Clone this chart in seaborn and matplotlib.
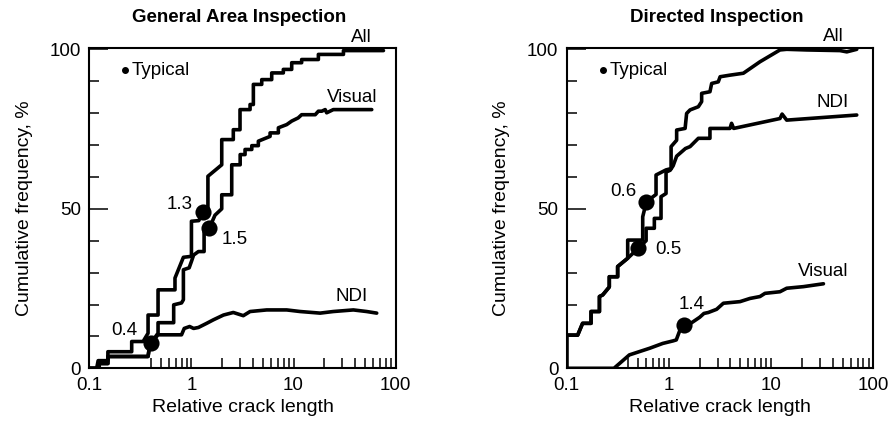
import matplotlib
matplotlib.use("Agg")
import matplotlib.pyplot as plt
import pandas as pd
import seaborn as sns
from matplotlib.ticker import FixedLocator, FixedFormatter, NullFormatter

# ---- General Area Inspection: cumulative frequency vs relative crack length ----
gen_all_x = [0.10, 0.118, 0.122, 0.152, 0.152, 0.26, 0.26, 0.336, 0.376, 0.376, 0.471, 0.471,
             0.69, 0.69, 0.834, 1.0, 1.0, 1.18, 1.3, 1.45, 1.45, 1.98, 1.98, 2.57, 2.57, 2.99,
             2.99, 3.75, 3.75, 4.04, 4.04, 4.88, 4.88, 6.11, 6.11, 7.94, 7.94, 9.59, 9.59, 12.0,
             12.0, 17.5, 17.5, 30.8, 30.8, 75.9]
gen_all_y = [0, 0, 2.4, 2.4, 5.2, 5.2, 8.4, 8.4, 11.0, 16.7, 16.7, 24.6,
             24.6, 28.3, 34.8, 35.1, 46.1, 46.3, 49.0, 50.0, 60.2, 63.8, 71.7, 71.7, 74.8, 74.8,
             81.1, 81.1, 82.7, 82.7, 89.0, 89.0, 90.5, 90.5, 92.6, 92.6, 93.7, 93.7, 95.8, 95.8,
             96.8, 96.8, 98.4, 98.4, 99.6, 99.6]

gen_visual_x = [0.10, 0.125, 0.125, 0.152, 0.152, 0.376, 0.385, 0.40, 0.471, 0.471, 0.67, 0.67,
                0.80, 0.834, 0.834, 0.95, 1.0, 1.05, 1.17, 1.33, 1.33, 1.5, 1.7, 1.98, 1.98, 2.48,
                2.48, 3.0, 3.0, 3.35, 3.35, 3.9, 3.9, 4.52, 4.52, 5.89, 5.89, 7.1, 7.1, 8.57, 9.59,
                11.1, 12.0, 16.3, 17.5, 18.9, 20.4, 21.1, 24.5, 58.3]
gen_visual_y = [0, 0, 1.5, 1.5, 3.7, 3.7, 6.0, 7.9, 11.0, 14.3, 14.3, 19.9,
                20.5, 21.5, 30.9, 31.5, 33.5, 35.5, 36.6, 36.6, 42.9, 44.0, 48.0, 50.0, 54.4, 54.4,
                63.8, 63.8, 67.0, 67.0, 68.6, 68.6, 69.8, 69.8, 71.2, 72.7, 73.8, 73.8, 75.4, 76.4, 77.5,
                78.5, 79.5, 79.5, 80.6, 80.6, 81.1, 80.1, 81.1, 81.1]

gen_ndi_x = [0.10, 0.125, 0.125, 0.152, 0.152, 0.376, 0.385, 0.40, 0.471, 0.80, 0.85, 0.96,
             1.05, 1.17, 1.41, 1.64, 2.06, 2.57, 3.22, 3.75, 5.46, 8.57, 11.6, 18.2, 24.5, 38.5,
             52.0, 65.2]
gen_ndi_y = [0, 0, 1.5, 1.5, 3.7, 3.7, 6.0, 7.9, 10.5, 10.5, 12.5, 13.1,
             12.5, 12.8, 14.1, 15.2, 16.7, 17.5, 16.5, 17.8, 18.3, 18.3, 17.8, 17.3, 17.8, 18.3,
             17.8, 17.3]

gen_typical_x = [1.3, 1.5, 0.4]
gen_typical_y = [49.0, 44.0, 7.9]
gen_typical_labels = ["1.3", "1.5", "0.4"]

# ---- Directed Inspection ----
dir_all_x = [0.10, 0.10, 0.128, 0.143, 0.173, 0.173, 0.209, 0.209, 0.225, 0.261, 0.261, 0.315,
             0.315, 0.395, 0.395, 0.554, 0.554, 0.6, 0.68, 0.748, 0.748, 0.937, 1.05, 1.05,
             1.19, 1.19, 1.44, 1.49, 1.61, 1.94, 2.09, 2.09, 2.52, 2.62, 3.04, 3.17, 3.96,
             5.35, 7.78, 12.2, 14.2, 22.3, 47.2, 55.0, 68.8]
dir_all_y = [0, 10.4, 10.4, 14.1, 14.1, 17.8, 17.8, 22.5, 23.0, 25.5, 28.7, 28.7,
             31.9, 34.5, 40.2, 40.2, 47.5, 52.0, 53.5, 54.5, 60.6, 62.2, 62.6, 69.5,
             71.5, 74.7, 75.2, 79.9, 81.0, 82.0, 83.6, 86.2, 86.7, 89.3, 89.8, 91.4, 91.9,
             92.5, 96.1, 99.8, 100.0, 99.8, 99.6, 99.2, 100.0]

dir_ndi_x = [0.10, 0.10, 0.128, 0.143, 0.173, 0.173, 0.209, 0.209, 0.225, 0.261, 0.261, 0.315,
             0.315, 0.395, 0.5, 0.598, 0.598, 0.72, 0.72, 0.837, 0.837, 0.937, 0.937, 1.03,
             1.1, 1.19, 1.45, 1.61, 1.94, 2.52, 2.52, 3.96, 4.1, 4.3, 12.2, 12.8, 14.2, 68.8]
dir_ndi_y = [0, 10.4, 10.4, 14.1, 14.1, 17.8, 17.8, 22.5, 23.0, 25.5, 28.7, 28.7,
             31.9, 34.5, 37.6, 40.0, 43.9, 43.9, 47.0, 47.0, 53.8, 54.8, 61.5, 62.1,
             63.5, 66.5, 68.9, 69.5, 72.1, 72.1, 75.2, 75.2, 76.8, 75.2, 78.3, 79.7, 77.8, 79.4]

dir_visual_x = [0.10, 0.29, 0.41, 0.65, 0.87, 1.1, 1.18, 1.30, 1.4, 1.67, 2.0, 2.2, 2.43,
                2.93, 3.41, 4.96, 6.21, 7.78, 8.71, 12.2, 14.2, 20.7, 32.5]
dir_visual_y = [0, 0, 4.2, 6.3, 7.8, 8.6, 8.9, 12.5, 13.5, 14.3, 16.0, 17.2, 17.5,
                18.5, 20.4, 20.9, 21.9, 22.5, 23.5, 24.0, 25.1, 25.6, 26.5]

dir_typical_x = [0.6, 0.5, 1.4]
dir_typical_y = [52.0, 37.6, 13.5]
dir_typical_labels = ["0.6", "0.5", "1.4"]

x_tick_values = [0.1, 1, 10, 100]
x_tick_labels = ["0.1", "1", "10", "100"]
x_minor_values = [0.4, 0.5, 0.6, 0.7, 0.8, 0.9, 2, 3, 4, 5, 6, 7, 8, 9,
                  20, 30, 40, 50, 60, 70, 80, 90]
y_tick_values = [0, 50, 100]
y_minor_values = [10, 20, 30, 40, 60, 70, 80, 90]

sns.set_theme(style="ticks")
plt.rcParams["font.family"] = ["Liberation Sans", "DejaVu Sans"]
plt.rcParams.update({"text.color": "black", "axes.labelcolor": "black",
                     "xtick.color": "black", "ytick.color": "black",
                     "axes.edgecolor": "black"})

fig = plt.figure(figsize=(8.95, 4.23), dpi=100)
ax_gen = fig.add_axes([0.0998, 0.1293, 0.3423, 0.7579])
ax_dir = fig.add_axes([0.6332, 0.1293, 0.3426, 0.7579])


def curves_frame(series):
    rows = []
    for name, xs, ys in series:
        for i, (xv, yv) in enumerate(zip(xs, ys)):
            rows.append({"method": name, "step": i, "x": xv, "y": yv})
    return pd.DataFrame(rows)


def draw_panel(ax, series, typ_x, typ_y, title):
    df = curves_frame(series)
    sns.lineplot(data=df, x="x", y="y", units="method", estimator=None, sort=False,
                 color="black", linewidth=2.6, ax=ax, legend=False)
    sns.scatterplot(x=typ_x, y=typ_y, s=135, color="black", linewidth=0, ax=ax, zorder=5)

    ax.set_xscale("log")
    ax.set_xlim(0.1, 100)
    ax.set_ylim(0, 100.5)
    ax.xaxis.set_major_locator(FixedLocator(x_tick_values))
    ax.xaxis.set_major_formatter(FixedFormatter(x_tick_labels))
    ax.xaxis.set_minor_locator(FixedLocator(x_minor_values))
    ax.xaxis.set_minor_formatter(NullFormatter())
    ax.yaxis.set_major_locator(FixedLocator(y_tick_values))
    ax.yaxis.set_minor_locator(FixedLocator(y_minor_values))
    ax.yaxis.set_minor_formatter(NullFormatter())

    ax.tick_params(axis="both", which="both", direction="in", width=1.1,
                   labelsize=13.5, colors="black")
    ax.tick_params(axis="y", which="major", length=14, pad=6)
    ax.tick_params(axis="y", which="minor", length=7.5)
    ax.tick_params(axis="x", which="both", length=7, pad=6)
    for sp in ax.spines.values():
        sp.set_visible(True)
        sp.set_linewidth(1.5)
        sp.set_color("black")

    ax.set_xlabel("Relative crack length", fontsize=14)
    ax.set_ylabel("Cumulative frequency, %", fontsize=14)
    ax.xaxis.set_label_coords(0.5, -0.095)
    ax.yaxis.set_label_coords(-0.185, 0.5)
    ax.text(0.49, 1.081, title, transform=ax.transAxes, ha="center", va="baseline",
            fontsize=13.5, fontweight="bold")

    # "Typical" key
    ax.scatter([0.224], [93.5], s=16, color="black", zorder=5)
    ax.text(0.262, 93.5, "Typical", fontsize=13.5, va="center", ha="left")


draw_panel(ax_gen,
           [("All", gen_all_x, gen_all_y),
            ("Visual", gen_visual_x, gen_visual_y),
            ("NDI", gen_ndi_x, gen_ndi_y)],
           gen_typical_x, gen_typical_y, "General Area Inspection")
draw_panel(ax_dir,
           [("All", dir_all_x, dir_all_y),
            ("NDI", dir_ndi_x, dir_ndi_y),
            ("Visual", dir_visual_x, dir_visual_y)],
           dir_typical_x, dir_typical_y, "Directed Inspection")

lbl = dict(fontsize=13.5, ha="center", va="center", clip_on=False)
# curve names
ax_gen.text(46.6, 103.7, "All", **lbl)
ax_gen.text(37.2, 84.8, "Visual", **lbl)
ax_gen.text(37.2, 22.5, "NDI", **lbl)
ax_dir.text(40.4, 103.9, "All", **lbl)
ax_dir.text(40.4, 83.2, "NDI", **lbl)
ax_dir.text(32.2, 30.2, "Visual", **lbl)

# values of the typical points
for ax, pos, labels in [(ax_gen, [(0.773, 51.3), (2.67, 40.3), (0.219, 12.0)], gen_typical_labels),
                        (ax_dir, [(0.355, 55.3), (0.98, 37.1), (1.68, 19.9)], dir_typical_labels)]:
    for (tx, ty), t in zip(pos, labels):
        ax.text(tx, ty, t, **lbl)

fig.savefig("out.png", dpi=100, facecolor="white")
